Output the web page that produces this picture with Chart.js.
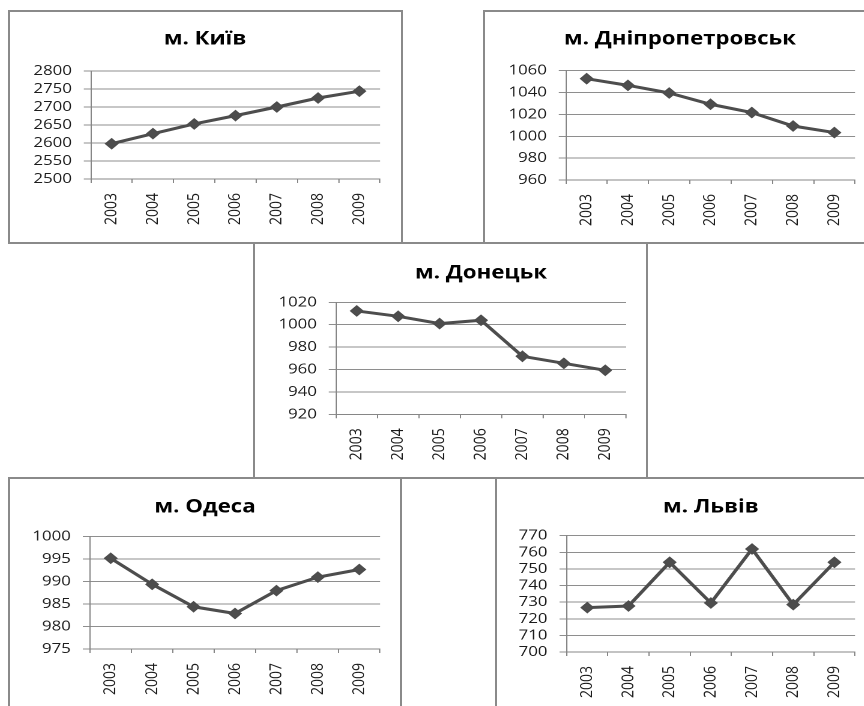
<!DOCTYPE html>
<html>
<head>
<meta charset="utf-8">
<script src="https://cdn.jsdelivr.net/npm/chart.js@4/dist/chart.umd.min.js"></script>
<style>
  html, body { margin: 0; padding: 0; background: #ffffff; width: 864px; height: 706px; overflow: hidden; }
  #page { position: relative; width: 864px; height: 706px; overflow: hidden; background: #ffffff; }
  .holder { position: absolute; transform-origin: 0 0; }
  .frame { position: absolute; box-sizing: border-box; border: 2px solid #8a8a8a; pointer-events: none; }
</style>
</head>
<body>
<div id="page"></div>
<script>
// Years on the category axis (shared by all panels)
const years = ['2003', '2004', '2005', '2006', '2007', '2008', '2009'];

// Population by city, thousand people
const kyivValues = [2598, 2626, 2653, 2676, 2700, 2725, 2744];
const dniproValues = [1052.7, 1046.6, 1039.6, 1029.3, 1021.7, 1009.4, 1003.4];
const donetskValues = [1012.3, 1007.5, 1001, 1004, 971.8, 965.5, 959.3];
const odesaValues = [995.2, 989.4, 984.4, 982.9, 988, 991, 992.7];
const lvivValues = [726.7, 727.7, 754, 729.5, 762, 728.5, 754];

// Value-axis ticks per panel: [min, max, step]
const kyivTicks = [2500, 2800, 50];
const dniproTicks = [960, 1060, 20];
const donetskTicks = [920, 1020, 20];
const odesaTicks = [975, 1000, 5];
const lvivTicks = [700, 770, 10];

// Panel titles
const kyivTitle = 'м. Київ';
const dniproTitle = 'м. Дніпропетровськ';
const donetskTitle = 'м. Донецьк';
const odesaTitle = 'м. Одеса';
const lvivTitle = 'м. Львів';

// Page layout of each panel: frame, plot area and title centre (page pixels)
const panels = [
  { title: kyivTitle, values: kyivValues, ticks: kyivTicks,
    box: { l: 9, t: 11, r: 402, b: 243 }, plot: { l: 91, r: 380, t: 71, b: 179 }, head: { x: 205, y: 39 } },
  { title: dniproTitle, values: dniproValues, ticks: dniproTicks,
    box: { l: 484, t: 11, r: 876, b: 243 }, plot: { l: 566, r: 855, t: 70.7, b: 180 }, head: { x: 680, y: 39 } },
  { title: donetskTitle, values: donetskValues, ticks: donetskTicks,
    box: { l: 254, t: 243, r: 647, b: 478 }, plot: { l: 336, r: 626, t: 302.3, b: 414.3 }, head: { x: 475, y: 273 } },
  { title: odesaTitle, values: odesaValues, ticks: odesaTicks,
    box: { l: 9, t: 478, r: 401, b: 730 }, plot: { l: 90, r: 380, t: 536.7, b: 649 }, head: { x: 205, y: 507 } },
  { title: lvivTitle, values: lvivValues, ticks: lvivTicks,
    box: { l: 496, t: 478, r: 877, b: 730 }, plot: { l: 566.7, r: 855, t: 535.7, b: 652 }, head: { x: 686.5, y: 507 } }
];

const SX = 1.2;              // panels are drawn narrow and widened horizontally
const FONT = 'Open Sans';
const TITLE_SIZE = 18.5;
const TICK_SIZE = 14;
const LINE_COLOR = '#4d4d4d';
const GRID_COLOR = '#8e8e8e';
const AXIS_COLOR = '#868686';
const TEXT_COLOR = '#1c1c1c';
const MIN_AXIS_WIDTH = 50;   // room for the value labels

const page = document.getElementById('page');

function buildPanel(p) {
  const W = Math.round((p.box.r - p.box.l) / SX);
  const H = p.box.b - p.box.t;
  const plotL = (p.plot.l - p.box.l) / SX;
  const plotR = (p.plot.r - p.box.l) / SX;
  const plotT = p.plot.t - p.box.t;
  const plotB = p.plot.b - p.box.t;
  const headX = (p.head.x - p.box.l) / SX;
  const headY = p.head.y - p.box.t;

  // a full-width title is centred between the left and right layout paddings;
  // when that leaves too little room for the value labels, centre it over the plot
  const padR = W - plotR;
  let padL = 2 * headX - plotR;
  let fullTitle = true;
  if (padL < 0 || plotL - padL < MIN_AXIS_WIDTH) {
    padL = 0;
    fullTitle = false;
  }
  const yAxisWidth = plotL - padL;
  const lineH = TITLE_SIZE * 1.2;

  const holder = document.createElement('div');
  holder.className = 'holder';
  holder.style.left = p.box.l + 'px';
  holder.style.top = p.box.t + 'px';
  holder.style.transform = 'scaleX(' + SX + ')';
  const canvas = document.createElement('canvas');
  canvas.width = W;
  canvas.height = H;
  holder.appendChild(canvas);
  page.appendChild(holder);

  const frame = document.createElement('div');
  frame.className = 'frame';
  frame.style.left = (p.box.l - 1) + 'px';
  frame.style.top = (p.box.t - 1) + 'px';
  frame.style.width = (p.box.r - p.box.l + 2) + 'px';
  frame.style.height = (p.box.b - p.box.t + 2) + 'px';
  page.appendChild(frame);

  new Chart(canvas, {
    type: 'line',
    data: {
      labels: years,
      datasets: [{
        data: p.values,
        borderColor: LINE_COLOR,
        borderWidth: 3,
        pointStyle: 'rectRot',
        pointRadius: 5.2,
        pointBackgroundColor: LINE_COLOR,
        pointBorderColor: LINE_COLOR,
        pointBorderWidth: 1,
        tension: 0,
        clip: false
      }]
    },
    options: {
      responsive: false,
      animation: false,
      devicePixelRatio: 2,
      layout: { padding: { left: padL, right: padR, top: 0, bottom: 0 } },
      plugins: {
        legend: { display: false },
        tooltip: { enabled: false },
        title: {
          display: true,
          text: p.title,
          color: '#000000',
          fullSize: fullTitle,
          font: { family: FONT, size: TITLE_SIZE, weight: 'bold', lineHeight: 1.2 },
          padding: { top: headY - lineH / 2, bottom: plotT - headY - lineH / 2 }
        }
      },
      scales: {
        x: {
          offset: true,
          grid: { offset: true, drawOnChartArea: false, drawTicks: true, tickLength: 4, color: AXIS_COLOR },
          border: { display: true, color: AXIS_COLOR, width: 1 },
          ticks: {
            autoSkip: false, maxRotation: 90, minRotation: 90, padding: 10,
            color: TEXT_COLOR, font: { family: FONT, size: TICK_SIZE }
          },
          afterFit: (scale) => { scale.height = H - plotB; }
        },
        y: {
          min: p.ticks[0],
          max: p.ticks[1],
          grid: { color: GRID_COLOR, drawTicks: true, tickLength: 6 },
          border: { display: true, color: AXIS_COLOR, width: 1 },
          ticks: {
            stepSize: p.ticks[2], autoSkip: false, padding: 10,
            color: TEXT_COLOR, font: { family: FONT, size: TICK_SIZE, lineHeight: 1 },
            callback: (value) => String(value)
          },
          afterFit: (scale) => { scale.width = yAxisWidth; }
        }
      }
    }
  });
}

panels.forEach(buildPanel);
</script>
</body>
</html>
